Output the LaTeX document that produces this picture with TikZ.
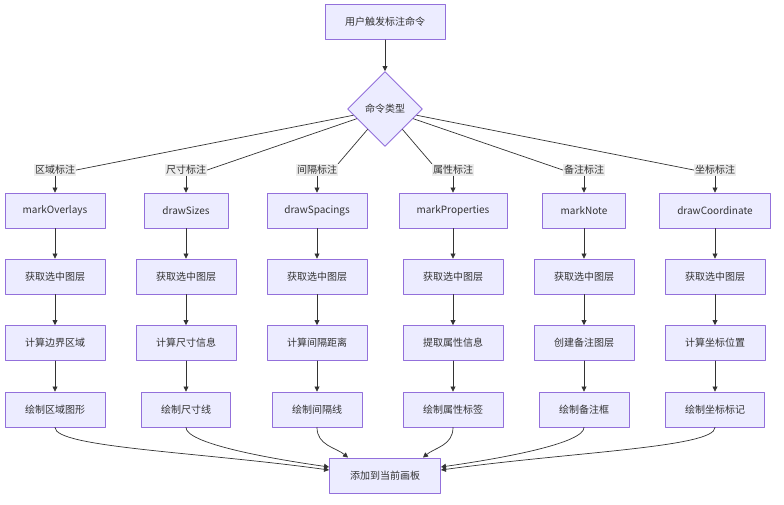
\documentclass[tikz,border=0pt]{standalone}
\usepackage{fontspec}
\setmainfont{Noto Sans CJK SC}
\usetikzlibrary{arrows.meta}
\usetikzlibrary{shapes.geometric}
\definecolor{boxfill}{HTML}{ECECFF}
\definecolor{boxline}{HTML}{9370DB}
\definecolor{edgecol}{HTML}{333333}
\definecolor{lblfill}{HTML}{EDEDED}
\begin{document}
\begin{tikzpicture}[line cap=round,line join=round,>={Triangle[length=5pt,width=5pt]},x=1pt,y=-1pt,
    box/.style={draw=boxline,fill=boxfill,line width=0.9pt,minimum width=100pt,minimum height=35pt,inner sep=2pt,font=\fontsize{10}{12}\selectfont,text=edgecol},
    lbl/.style={fill=lblfill,inner xsep=1pt,inner ysep=1.5pt,font=\fontsize{10}{12}\selectfont,text=edgecol},
    link/.style={draw=edgecol,line width=0.7pt}]
      \useasboundingbox[fill=white] (0,0) rectangle (784,504);
      \node[box,minimum width=120pt] (start) at (385,22) {用户触发标注命令};
      \node[box,shape=diamond,aspect=1,minimum size=75pt,inner sep=0pt] (dia) at (385,109) {命令类型};
      \node[box,minimum width=111pt] (bot) at (385,475.5) {添加到当前画板};
      \draw[link,->] (start) -- (dia);
      \foreach \n/\x/\lab/\side/\ta/\wtop/\tc/\td/\wlow in {
        1/55/区域标注/east/markOverlays/100/计算边界区域/绘制区域图形/100,
        2/186/尺寸标注/east/drawSizes/84/计算尺寸信息/绘制尺寸线/89,
        3/317/间隔标注/north east/drawSpacings/100/计算间隔距离/绘制间隔线/90,
        4/453/属性标注/north west/markProperties/108/提取属性信息/绘制属性标签/100,
        5/584/备注标注/west/markNote/83/创建备注图层/绘制备注框/90,
        6/715/坐标标注/west/drawCoordinate/111/计算坐标位置/绘制坐标标记/99}
      {
        \node[lbl] (l\n) at (\x,170) {\lab};
        \node[box,minimum width=\wtop pt] (a\n) at (\x,210.5) {\ta};
        \node[box] (b\n) at (\x,276.5) {获取选中图层};
        \node[box] (c\n) at (\x,343) {\tc};
        \node[box,minimum width=\wlow pt] (d\n) at (\x,409.5) {\td};
        \draw[link] (dia) -- (l\n.\side);
        \draw[link,->] (l\n) -- (a\n);
        \draw[link,->] (a\n) -- (b\n);
        \draw[link,->] (b\n) -- (c\n);
        \draw[link,->] (c\n) -- (d\n);
      }
      % all branches end on the canvas box
      \draw[link,->] (d1.south) .. controls +(0,20) and +(-130,-18) .. ([yshift=5.5pt]bot.west);
      \draw[link,->] (d2.south) .. controls +(0,15) and +(-70,-10) .. ([yshift=8.5pt]bot.west);
      \draw[link,->] (d3.south) .. controls +(0,18) and +(-12,-10) .. ([xshift=-37pt]bot.north);
      \draw[link,->] (d4.south) .. controls +(0,18) and +(12,-10) .. ([xshift=38pt]bot.north);
      \draw[link,->] (d5.south) .. controls +(0,15) and +(70,-10) .. ([yshift=8.5pt]bot.east);
      \draw[link,->] (d6.south) .. controls +(0,20) and +(130,-18) .. ([yshift=5.5pt]bot.east);
\end{tikzpicture}
\end{document}
